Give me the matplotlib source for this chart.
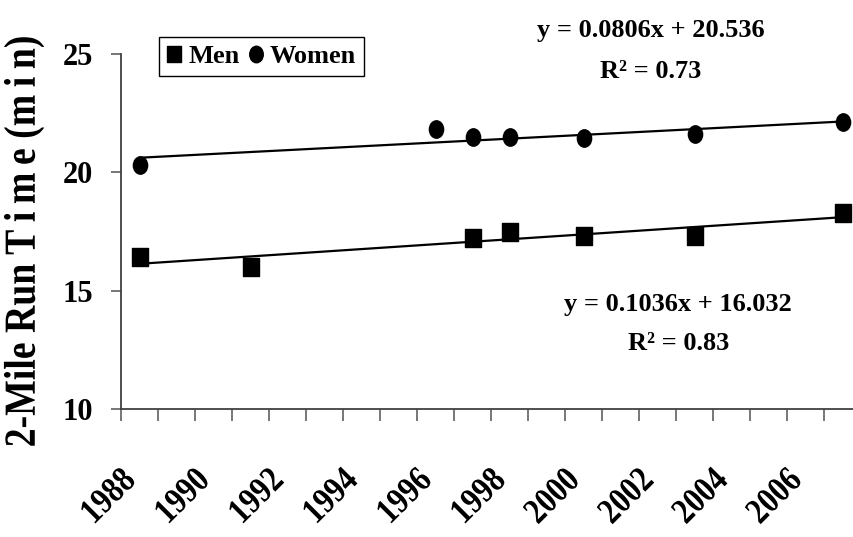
import matplotlib
matplotlib.use('Agg')
import matplotlib.pyplot as plt
import numpy as np
from matplotlib.path import Path
from matplotlib.patheffects import AbstractPathEffect
from matplotlib.transforms import Affine2D, ScaledTranslation

plt.rcParams['font.family'] = ['Liberation Serif', 'DejaVu Serif']
plt.rcParams['font.weight'] = 'bold'

# data
men_years = [1988, 1991, 1997, 1998, 2000, 2003, 2007]
men_times = [16.42, 16.0, 17.23, 17.48, 17.31, 17.31, 18.28]
women_years = [1988, 1996, 1997, 1998, 2000, 2003, 2007]
women_times = [20.31, 21.83, 21.49, 21.49, 21.45, 21.62, 22.13]

# Excel trendlines (x = category index, 1988 -> 1)
men_fit = (0.1036, 16.032, 0.83)
women_fit = (0.0806, 20.536, 0.73)

first_year, last_year = 1988, 2007
label_years = list(range(1988, 2007, 2))
y_ticks = [10, 15, 20, 25]


class Squeeze(AbstractPathEffect):
    """squash text along its baseline - Excel's tall rotated text"""
    def __init__(self, sx, anchor=0.5):
        super().__init__()
        self.sx = sx
        self.anchor = anchor

    def draw_path(self, renderer, gc, tpath, affine, rgbFace=None):
        xs = tpath.vertices[:, 0]
        cx = xs.min() + self.anchor * (xs.max() - xs.min())
        t = Affine2D().translate(-cx, 0).scale(self.sx, 1).translate(cx, 0)
        renderer.draw_path(gc, tpath, t + affine, rgbFace)


# slightly tall markers, like the stretched Excel picture
sq_marker = Path([(-0.88, -1), (0.88, -1), (0.88, 1), (-0.88, 1), (-0.88, -1)],
                 [Path.MOVETO, Path.LINETO, Path.LINETO, Path.LINETO, Path.CLOSEPOLY])
circ_marker = Path.unit_circle().transformed(Affine2D().scale(0.82, 1.0))

fig = plt.figure(figsize=(8.54, 5.37), dpi=100)
W, H = 854, 537
ax = fig.add_axes([121 / W, 1 - 409 / H, 740 / W, 355 / H])

years_all = np.arange(first_year, last_year + 1)
idx = years_all - first_year + 1
ax.plot(years_all, men_fit[0] * idx + men_fit[1], color='black', lw=1.6, zorder=2)
ax.plot(years_all, women_fit[0] * idx + women_fit[1], color='black', lw=1.6, zorder=2)

ax.plot(men_years, men_times, linestyle='none', marker=sq_marker, markersize=12.5,
        color='black', label='Men', zorder=3)
ax.plot(women_years, women_times, linestyle='none', marker=circ_marker, markersize=12.5,
        color='black', label='Women', zorder=3)

ax.set_xlim(first_year - 0.5, last_year + 0.5)
ax.set_ylim(10, 25)
ax.set_yticks(y_ticks)
ax.set_xticks(np.arange(first_year - 0.5, last_year + 1.0, 1.0))
ax.set_xticklabels([])
ax.tick_params(axis='x', length=8.6, width=1.2, color='#606060', direction='out')
ax.tick_params(axis='y', length=7.2, width=1.2, color='#606060', direction='out',
               labelsize=22, pad=13)
for s in ['top', 'right']:
    ax.spines[s].set_visible(False)
for s in ['left', 'bottom']:
    ax.spines[s].set_color('#404040')
    ax.spines[s].set_linewidth(1.3)

# rotated year labels
off = ScaledTranslation(-20 / 100, -55 / 100, fig.dpi_scale_trans)
for yr in label_years:
    ax.text(yr, 0, str(yr), transform=ax.get_xaxis_transform() + off,
            rotation=45, rotation_mode='anchor', ha='right', va='top',
            fontsize=26, fontweight='bold', clip_on=False,
            path_effects=[Squeeze(0.85, anchor=1.0)])

fig.text(24 / W, 1 - 241 / H, '2-Mile Run T\u2009i\u2009m\u2009e (m\u2009i\u2009n)',
         rotation=90, ha='center', va='center', fontsize=32, fontweight='bold',
         path_effects=[Squeeze(0.85)])

# trendline equations
fig.text(651 / W, 1 - 30 / H, f'y = {women_fit[0]:.4f}x + {women_fit[1]:.3f}',
         ha='center', va='center', fontsize=19, fontweight='bold')
fig.text(651 / W, 1 - 71 / H, f'R\u00b2 = {women_fit[2]:.2f}',
         ha='center', va='center', fontsize=19, fontweight='bold')
fig.text(678 / W, 1 - 304 / H, f'y = {men_fit[0]:.4f}x + {men_fit[1]:.3f}',
         ha='center', va='center', fontsize=19, fontweight='bold')
fig.text(679 / W, 1 - 343 / H, f'R\u00b2 = {men_fit[2]:.2f}',
         ha='center', va='center', fontsize=19, fontweight='bold')

leg = fig.legend(loc='upper left', bbox_to_anchor=(159 / W, 1 - 37 / H), ncol=2,
                 frameon=True, fancybox=False, edgecolor='black', framealpha=1,
                 prop={'size': 19, 'weight': 'bold'}, handlelength=0.55,
                 handletextpad=0.25, columnspacing=0.35, borderpad=0.3,
                 borderaxespad=0, markerscale=0.95)
leg.get_frame().set_linewidth(1.0)

fig.savefig('out.png', dpi=100, facecolor='white')
